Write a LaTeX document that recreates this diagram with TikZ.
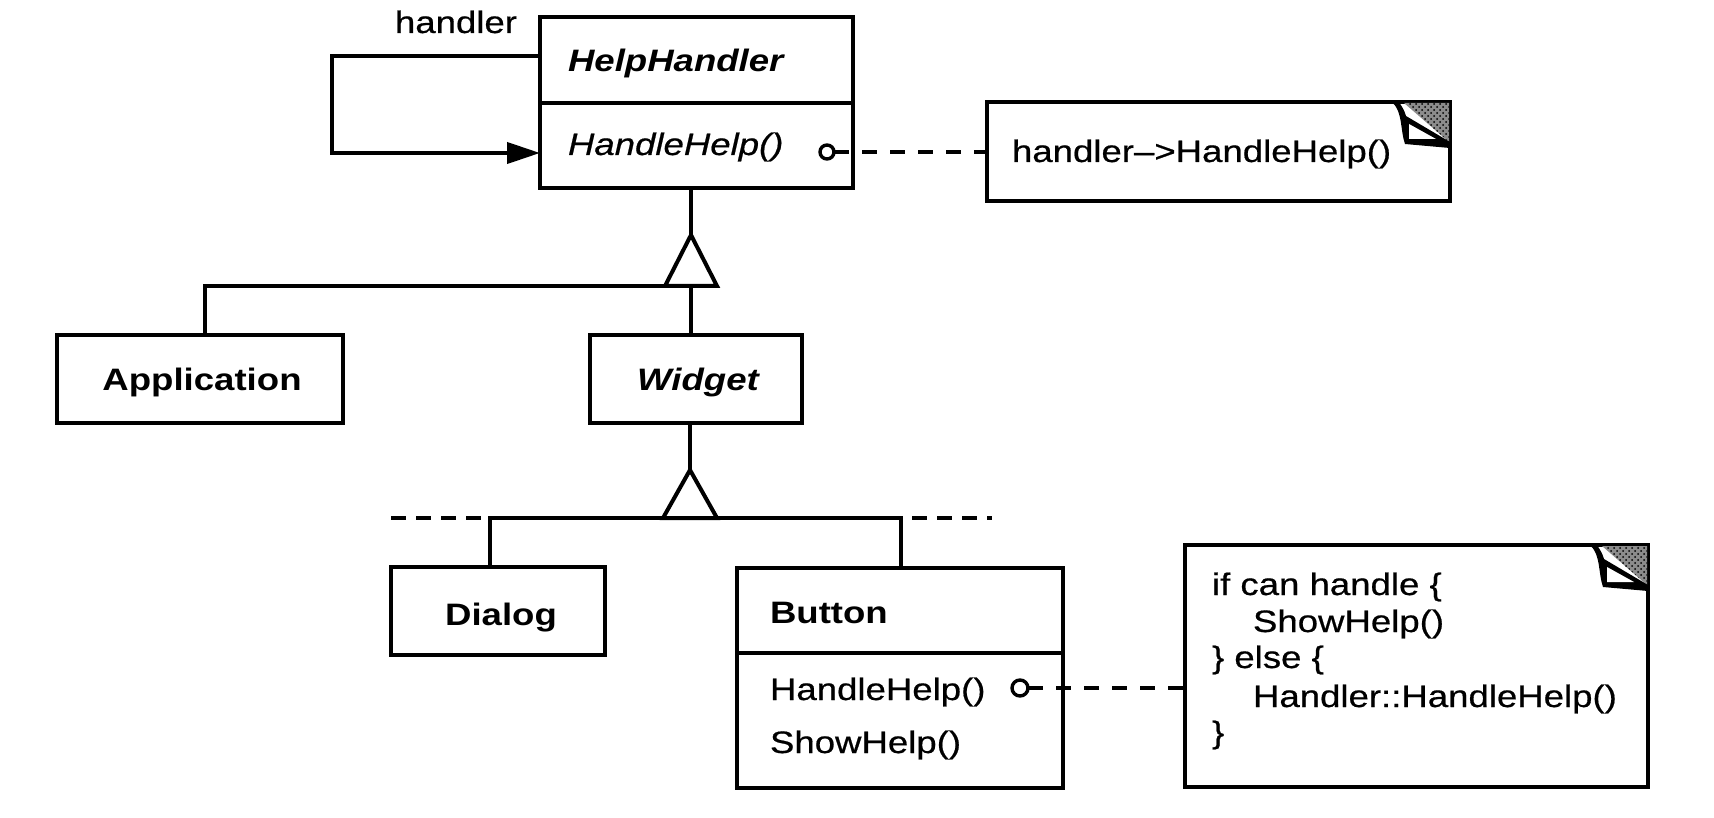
\documentclass[tikz,border=0pt]{standalone}
\usepackage{fontspec}
\setmainfont{Liberation Sans}[FakeStretch=1.18, UprightFeatures={FakeBold=0.6}, ItalicFeatures={FakeBold=0.6}]
\usetikzlibrary{arrows.meta,patterns}
\tikzset{
  box/.style={draw, line width=2.2pt, inner sep=0pt, outer sep=0pt},
  conn/.style={line width=2pt},
  divline/.style={line width=2.2pt},
  fsz/.style={inner sep=0pt, outer sep=0pt, font=\fontsize{15.5pt}{18pt}\selectfont},
  fszb/.style={inner sep=0pt, outer sep=0pt, font=\fontsize{15.5pt}{18pt}\selectfont\bfseries},
  fszi/.style={inner sep=0pt, outer sep=0pt, font=\fontsize{15.5pt}{18pt}\selectfont\itshape},
  fszbi/.style={inner sep=0pt, outer sep=0pt, font=\fontsize{15.5pt}{18pt}\selectfont\bfseries\itshape},
  portdot/.style={draw, circle, line width=1.7pt, inner sep=0pt, outer sep=0pt, fill=white},
  ndash/.style={conn, dash pattern=on 7.5pt off 6.5pt},
  hdash/.style={conn, dash pattern=on 7.5pt off 5pt},
  fold/.pic={
    \fill[black!45] (-46,1) -- (-1,1) -- (-1,40) -- cycle;
    \fill[pattern=crosshatch dots] (-46,1) -- (-1,1) -- (-1,40) -- cycle;
    \fill[black] (-58,0) .. controls (-47,10) and (-50,28) .. (-45,42) -- (0,46) -- (0,40) -- (-44,14) .. controls (-46,8) .. (-51,0) -- cycle;
    \fill[white] (-41,22) -- (-41,37) -- (-14,37) -- cycle;
  }
}
\begin{document}
\begin{tikzpicture}[x=0.5pt,y=-0.5pt]
\fill[white] (0,0) rectangle (1714,818);
\useasboundingbox (0,0) rectangle (1714,818);

% ---------- classes ----------
\node[box, minimum width=156.5pt, minimum height=85.5pt] (hh) at (696.5,102.5) {};
\coordinate (hhdiv) at (0,103);
\draw[divline] (hh.west |- hhdiv) -- (hh.east |- hhdiv);
\node[fszbi, anchor=base west] (hhname) at (568,72) {HelpHandler};
\node[fszi, anchor=base west] (hhop) at (568,155) {HandleHelp()};
\node[fsz, anchor=base] (hlabel) at (456,33) {handler};

\node[box, minimum width=143pt, minimum height=44pt] (app) at (200,379) {};
\node[fszb, anchor=base] (appname) at (202,391) {Application};

\node[box, minimum width=106pt, minimum height=44pt] (wid) at (696,379) {};
\node[fszbi, anchor=base] (widname) at (698,391) {Widget};

\node[box, minimum width=107pt, minimum height=44pt] (dlg) at (498,611) {};
\node[fszb, anchor=base] (dlgname) at (501,625) {Dialog};

\node[box, minimum width=163pt, minimum height=110pt] (btn) at (900,678) {};
\coordinate (btndiv) at (0,653);
\draw[divline] (btn.west |- btndiv) -- (btn.east |- btndiv);
\node[fszb, anchor=base west] (btnname) at (770,623) {Button};
\node[fsz, anchor=base west] (btnop1) at (770,700) {HandleHelp()};
\node[fsz, anchor=base west] (btnop2) at (770,753) {ShowHelp()};

% ---------- notes ----------
\node[box, minimum width=231.5pt, minimum height=49.5pt] (note1) at (1218.5,151.5) {};
\node[fsz, anchor=base west] (note1txt) at (1012,162) {handler\textendash>HandleHelp()};
\pic at (note1.north east) {fold};

\node[box, minimum width=231.5pt, minimum height=121pt] (note2) at (1416.5,666) {};
\node[fsz, anchor=base west] (n2a) at (1212,595) {if can handle \{};
\node[fsz, anchor=base west] (n2b) at (1253,632) {ShowHelp()};
\node[fsz, anchor=base west] (n2c) at (1212,668) {\} else \{};
\node[fsz, anchor=base west] (n2d) at (1253,707) {Handler::HandleHelp()};
\node[fsz, anchor=base west] (n2e) at (1212,743) {\}};
\pic at (note2.north east) {fold};

% ---------- self association ----------
\coordinate (lp1) at (332,56);
\coordinate (lp2) at (332,153);
\draw[conn, line join=miter, -{Triangle[length=16.5pt,width=10.5pt]}]
  (hh.west |- lp1) -- (lp1) -- (lp2) -- (hh.west |- lp2);

% ---------- note links ----------
\node[portdot, minimum size=7pt] (c1) at (827,152) {};
\draw[ndash] (c1) -- (note1.west |- c1);
\node[portdot, minimum size=8pt] (c2) at (1020,688) {};
\draw[ndash] (c2) -- (note2.west |- c2);

% ---------- inheritance 1 ----------
\coordinate (t1) at (691,235);
\coordinate (t1l) at (665,286);
\coordinate (t1r) at (717,286);
\coordinate (t1b) at (691,286);
\coordinate (a1) at (205,286);
\draw[conn] (hh.south -| t1) -- (t1);
\draw[conn] (t1b) -- (wid.north -| t1b);
\draw[conn, line join=miter] (t1l) -- (a1) -- (app.north -| a1);
\draw[conn, fill=white, line join=miter] (t1) -- (t1r) -- (t1l) -- cycle;

% ---------- inheritance 2 ----------
\coordinate (t2) at (690,470);
\coordinate (t2l) at (663,518);
\coordinate (t2r) at (717,518);
\coordinate (d1) at (490,518);
\coordinate (b1) at (901,518);
\draw[conn] (wid.south -| t2) -- (t2);
\draw[conn, line join=miter] (dlg.north -| d1) -- (d1) -- (b1) -- (btn.north -| b1);
\draw[conn, fill=white, line join=miter] (t2) -- (t2r) -- (t2l) -- cycle;
\coordinate (dl0) at (391,518);
\coordinate (dl1) at (482,518);
\coordinate (dr0) at (912,518);
\coordinate (dr1) at (992,518);
\draw[hdash] (dl0) -- (dl1);
\draw[hdash] (dr0) -- (dr1);
\end{tikzpicture}
\end{document}
